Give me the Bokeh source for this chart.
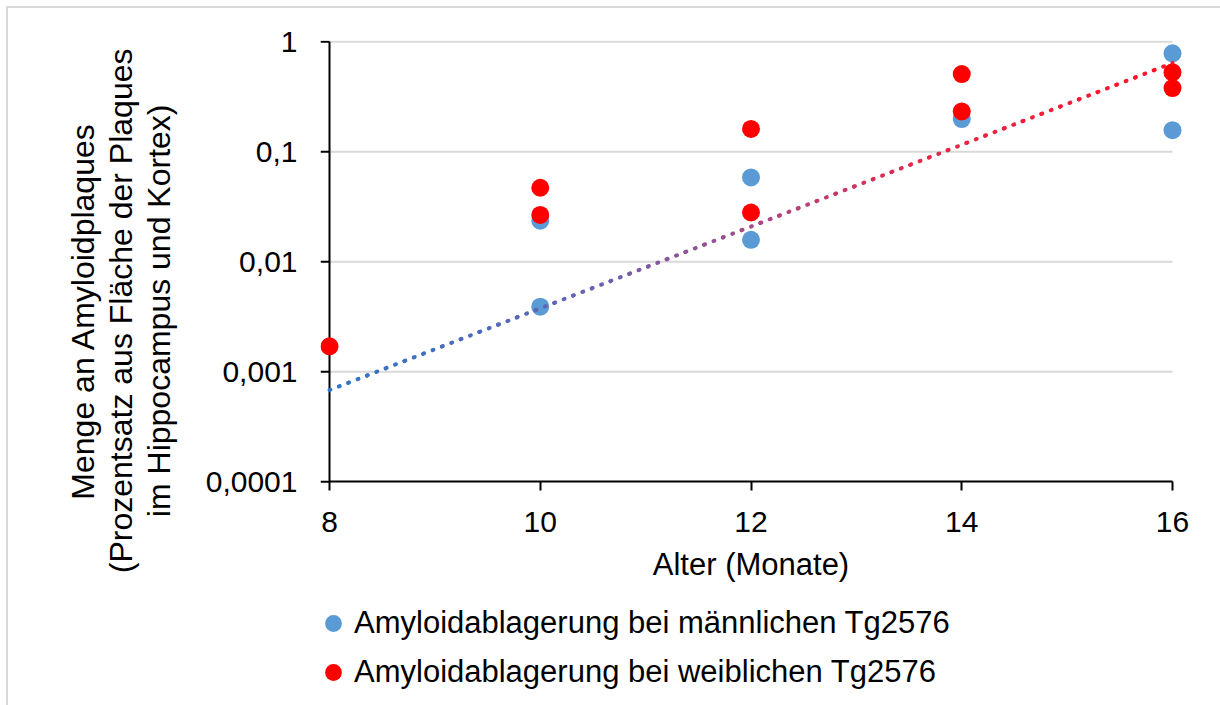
import numpy as np
from bokeh.plotting import figure
from bokeh.models import (Range1d, FixedTicker, Legend, LegendItem, Title)
from bokeh.embed import file_html
from bokeh.resources import INLINE

# ---------------- data ----------------
x_ticks = [8, 10, 12, 14, 16]
y_ticks = [0.0001, 0.001, 0.01, 0.1, 1]
y_tick_labels = ["0,0001", "0,001", "0,01", "0,1", "1"]

male_age = [10, 10, 12, 12, 14, 16, 16]
male_amount = [0.0236, 0.0039, 0.0583, 0.0158, 0.198, 0.784, 0.157]

female_age = [8, 10, 10, 12, 12, 14, 14, 16, 16]
female_amount = [0.0017, 0.047, 0.0266, 0.161, 0.028, 0.508, 0.232, 0.526, 0.379]

trend_age = [8, 16]
trend_amount = [0.00068, 0.64]

male_label = "Amyloidablagerung bei männlichen Tg2576"
female_label = "Amyloidablagerung bei weiblichen Tg2576"
x_title = "Alter (Monate)"
y_title_lines = ["Menge an Amyloidplaques",
                 "(Prozentsatz aus Fläche der Plaques",
                 "im Hippocampus und Kortex)"]
y_title_offsets = [82, 8, 64]     # px from frame top to the upper end of each line

# ---------------- style ----------------
FONT = "Liberation Sans"
FS_TICK = "30px"
FS = "31px"
BLUE = "#5B9BD5"
RED = "#FF0000"
GRID = "#D9D9D9"

OFF = 8                      # chart border offset (margin 6 + border 2)
FRAME_LEFT = 320             # page pixels
AXIS_LEFT = 329              # page x of age 8
AXIS_RIGHT = 1172            # page x of age 16
FRAME_W = 1220 - FRAME_LEFT  # frame runs to the right edge so tick labels are not clipped
FRAME_TOP = 40
FRAME_H = 705 - FRAME_TOP    # frame runs to the bottom so the legend below is not clipped
DECADE_PX = 110
px_per_x = (AXIS_RIGHT - AXIS_LEFT) / (x_ticks[-1] - x_ticks[0])
x_lo = x_ticks[0] - (AXIS_LEFT - FRAME_LEFT) / px_per_x
x_hi = x_lo + FRAME_W / px_per_x
y_hi = 1.025
y_lo = 10 ** (np.log10(y_hi) - FRAME_H / DECADE_PX)

p = figure(frame_width=FRAME_W, frame_height=FRAME_H,
           min_border_left=FRAME_LEFT - OFF, min_border_right=0,
           min_border_top=FRAME_TOP - OFF, min_border_bottom=0,
           x_range=Range1d(x_lo, x_hi), y_range=Range1d(y_lo, y_hi),
           y_axis_type="log", output_backend="svg", toolbar_location=None,
           background_fill_color="white", border_fill_color="white")
p.margin = (OFF - 2, 0, 0, OFF - 2)
p.styles = {"border-left": "2px solid #D9D9D9", "border-top": "2px solid #D9D9D9"}
p.outline_line_color = None
p.xgrid.visible = False
p.ygrid.visible = False

# horizontal gridlines
p.segment(x0=[x_ticks[0]] * (len(y_ticks) - 1), x1=[x_ticks[-1]] * (len(y_ticks) - 1),
          y0=y_ticks[1:], y1=y_ticks[1:], line_color=GRID, line_width=2)

# x axis (fixed at y = 0.0001)
xa = p.xaxis[0]
xa.fixed_location = y_ticks[0]
xa.bounds = (x_ticks[0], x_ticks[-1])
xa.ticker = FixedTicker(ticks=x_ticks, minor_ticks=[])
xa.axis_line_color = "black"
xa.axis_line_width = 2
xa.major_tick_line_color = "black"
xa.major_tick_line_width = 2
xa.major_tick_in = 0
xa.major_tick_out = 9
xa.minor_tick_line_color = None
xa.major_label_standoff = 21
xa.axis_label = x_title
xa.axis_label_text_font = FONT
xa.axis_label_text_font_size = FS
xa.axis_label_text_font_style = "normal"
xa.axis_label_text_color = "black"
xa.axis_label_standoff = 12

# y axis: labels from the axis, line and ticks drawn at x = 8 inside the frame
ya = p.yaxis[0]
ya.ticker = FixedTicker(ticks=y_ticks, minor_ticks=[])
ya.major_label_overrides = {t: l for t, l in zip(y_ticks, y_tick_labels)}
ya.axis_line_color = None
ya.major_tick_line_color = None
ya.minor_tick_line_color = None
ya.major_tick_in = 0
ya.major_tick_out = 0
ya.major_label_standoff = 23
for ax in (xa, ya):
    ax.major_label_text_font = FONT
    ax.major_label_text_font_size = FS_TICK
    ax.major_label_text_color = "black"

p.segment(x0=[x_ticks[0]], x1=[x_ticks[0]], y0=[y_ticks[0]], y1=[y_ticks[-1]],
          line_color="black", line_width=2)
p.segment(x0=[x_lo] * len(y_ticks), x1=[x_ticks[0]] * len(y_ticks),
          y0=y_ticks, y1=y_ticks, line_color="black", line_width=2)

# scatter
r_m = p.scatter(male_age, male_amount, size=18, color=BLUE, line_color=None)
r_f = p.scatter(female_age, female_amount, size=18, color=RED, line_color=None)

# dotted gradient trendline (exponential trendline split for colour gradient)
n_seg = 45
t = np.linspace(0, 1, n_seg + 1)
tx = trend_age[0] + (trend_age[1] - trend_age[0]) * t
ty = trend_amount[0] * (trend_amount[1] / trend_amount[0]) ** t
stops = [0.0, 0.3, 0.5, 0.7, 1.0]
rs = [46, 100, 165, 230, 255]
gs = [117, 100, 75, 40, 20]
bs = [200, 180, 140, 75, 40]
tm = (t[:-1] + t[1:]) / 2
cols = ["#%02x%02x%02x" % (int(np.interp(v, stops, rs)), int(np.interp(v, stops, gs)),
                           int(np.interp(v, stops, bs))) for v in tm]
p.segment(x0=tx[:-1], y0=ty[:-1], x1=tx[1:], y1=ty[1:], line_color=cols,
          line_width=4, line_dash="1 9", line_cap="round")

# y axis title: spacer + three stacked titles in the left panel (closest first)
p.add_layout(Title(text=" ", text_font_size="2px", standoff=22), "left")
for line, off in reversed(list(zip(y_title_lines, y_title_offsets))):
    p.add_layout(Title(text=line, align="right", offset=off, standoff=0,
                       text_font=FONT, text_font_size="32px", text_font_style="normal",
                       text_color="black"), "left")

# legend below the axis (inside the extended frame)
legend = Legend(items=[LegendItem(label=male_label, renderers=[r_m]),
                       LegendItem(label=female_label, renderers=[r_f])],
                location=(312 - FRAME_LEFT, 705 - 693), margin=0,
                glyph_width=42, glyph_height=42, spacing=7, padding=0,
                label_standoff=-4, border_line_color=None, background_fill_alpha=0,
                label_text_font=FONT, label_text_font_size=FS, label_text_color="black")
p.add_layout(legend, "center")

open("out.html", "w").write(file_html(p, INLINE))
